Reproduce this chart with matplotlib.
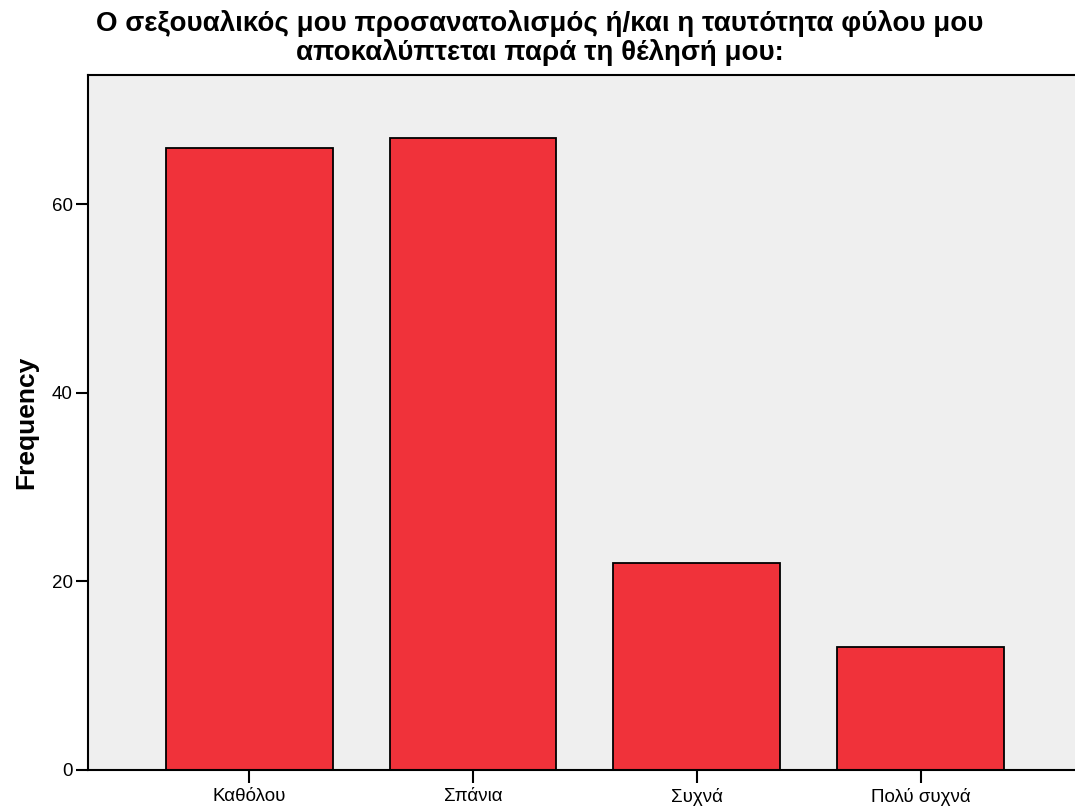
import matplotlib
matplotlib.use('Agg')
import matplotlib.pyplot as plt

# data
categories = ['Καθόλου', 'Σπάνια', 'Συχνά', 'Πολύ συχνά']
counts = [66, 67, 22, 13]
title = ('Ο σεξουαλικός μου προσανατολισμός ή/και η ταυτότητα φύλου μου\n'
         'αποκαλύπτεται παρά τη θέλησή μου:')

plt.rcParams['font.family'] = ['Liberation Sans', 'DejaVu Sans']

fig = plt.figure(figsize=(10.75, 8.1), dpi=100)
ax = fig.add_axes([88 / 1075, 40 / 810, 1 - 88 / 1075, 695 / 810])
ax.set_facecolor('#efefef')

x = range(len(categories))
ax.bar(x, counts, width=0.745, color='#f0323a', edgecolor='black', linewidth=1.3, zorder=2)

ax.set_xlim(-0.721, 3.69)
ax.set_ylim(0, 73.7)
ax.set_yticks([0, 20, 40, 60])
ax.set_xticks(list(x))
ax.set_xticklabels(categories)
ax.tick_params(axis='both', direction='out', length=9, width=1.5, labelsize=13.5, colors='black', pad=2)
ax.tick_params(axis='x', pad=4)

for s in ['left', 'bottom', 'top']:
    ax.spines[s].set_linewidth(1.5)
ax.spines['right'].set_visible(False)

ax.set_ylabel('Frequency', fontsize=19, fontweight='bold', labelpad=10)
fig.text(0.502, 0.988, title, ha='center', va='top', fontsize=20, fontweight='bold', linespacing=1.1)

fig.savefig('out.png', dpi=100)
